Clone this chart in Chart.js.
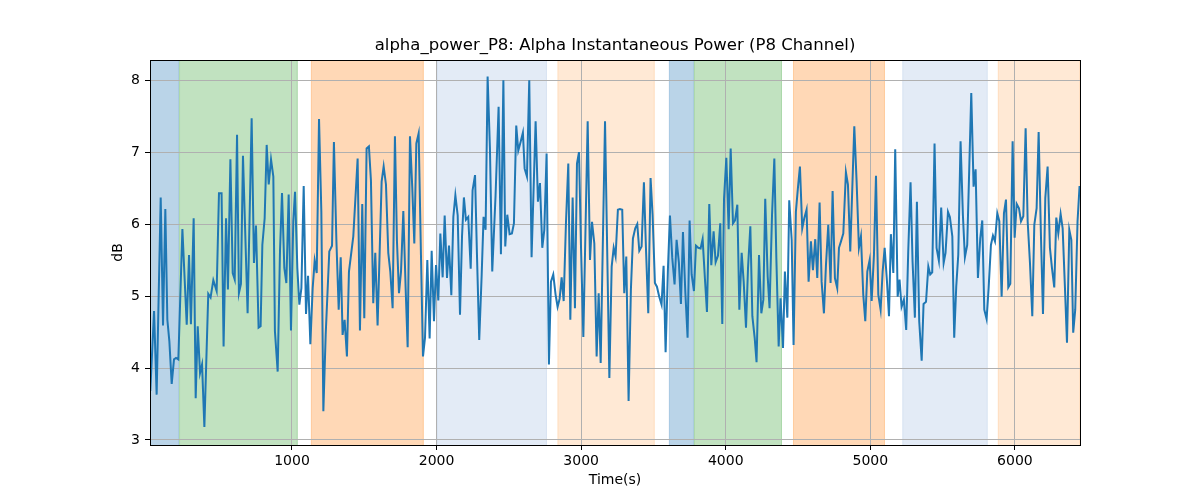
<!DOCTYPE html>
<html>
<head>
<meta charset="utf-8">
<title>alpha_power_P8</title>
<script src="https://cdn.jsdelivr.net/npm/chart.js@4.4.1/dist/chart.umd.min.js"></script>
<style>
  body { margin: 0; background: #fff; }
  #wrap { width: 1200px; height: 500px; }
</style>
</head>
<body>
<div id="wrap"><canvas id="chartAlpha" width="1200" height="500"></canvas></div>
<script>
// Tiempos (s) y potencia alfa (dB)
const timeSec = [
  20, 46, 64, 92, 108, 124, 138, 152, 168, 184, 198, 214, 242, 272, 288, 301, 320, 334, 348, 364,
  378, 394, 421, 437, 456, 479, 495, 513, 527, 544, 557, 574, 590, 604, 620, 633, 647, 661, 693, 721,
  737, 751, 769, 783, 795, 811,
  825, 839, 855, 871, 882, 901, 917, 931, 947, 961, 977, 993, 1009, 1021, 1037, 1051, 1065, 1081, 1097, 1111,
  1127, 1143, 1157, 1171, 1187, 1203, 1217, 1233, 1258, 1277, 1290, 1307, 1323, 1337, 1350, 1364, 1380, 1394, 1424, 1454,
  1470, 1486, 1500, 1516, 1532, 1546, 1562, 1576, 1592,
  1620, 1634, 1650, 1666, 1680, 1696, 1712, 1726, 1740, 1754, 1770, 1786, 1800, 1816, 1832, 1846, 1860, 1876, 1892, 1906,
  1920, 1936, 1952, 1966, 1982, 1996, 2012, 2026, 2042, 2056, 2072, 2086, 2102, 2116, 2130, 2146, 2162, 2176, 2189, 2203,
  2219, 2236, 2249, 2266, 2279, 2295, 2312, 2325, 2339, 2353, 2369, 2385, 2408,
  2429, 2445, 2462, 2475, 2489, 2505, 2521, 2535, 2551, 2565, 2581, 2597, 2609, 2625, 2641, 2657, 2685, 2701, 2715, 2731,
  2745, 2761, 2777, 2791, 2807, 2823, 2837, 2851, 2865, 2879, 2895, 2911, 2925, 2941, 2957, 2971, 2985, 2999, 3015, 3045,
  3061, 3075, 3091, 3107, 3121, 3135, 3165, 3195,
  3211, 3225, 3238, 3254, 3268, 3284, 3298, 3312, 3328, 3344, 3358, 3374, 3388, 3402, 3418, 3434, 3448, 3464, 3480, 3494,
  3510, 3524, 3540, 3556, 3570, 3584, 3600, 3614, 3630, 3646, 3660, 3676, 3690, 3704, 3720, 3736, 3750, 3764, 3780, 3794,
  3810, 3826, 3840, 3856, 3870, 3886, 3900, 3916, 3930, 3946, 3962, 3976,
  3988, 4004, 4020, 4034, 4050, 4064, 4080, 4094, 4110, 4124, 4140, 4154, 4170, 4184, 4200, 4213, 4230, 4246, 4260, 4273,
  4290, 4303, 4320, 4336, 4350, 4366, 4379, 4396, 4409, 4426, 4439, 4456, 4469, 4485, 4499, 4513, 4529, 4543, 4559, 4573,
  4589, 4603, 4619, 4633, 4649, 4663, 4679, 4693, 4709, 4725, 4739, 4755, 4771,
  4783, 4797, 4813, 4831, 4845, 4861, 4889, 4905, 4921, 4935, 4951, 4965, 4979, 4995, 5009, 5025, 5039, 5055, 5071, 5085,
  5099, 5115, 5129, 5142, 5159, 5172, 5189, 5202, 5216, 5232, 5248, 5262, 5278, 5292, 5308, 5322, 5338, 5355, 5368, 5385,
  5401, 5414, 5428, 5444, 5458, 5474, 5490, 5507, 5520, 5537, 5550, 5567, 5580,
  5594, 5608, 5624, 5640, 5654, 5670, 5684, 5698, 5714, 5728, 5744, 5760, 5774, 5788, 5804, 5818, 5834, 5848, 5862, 5878,
  5892, 5908, 5924, 5938, 5954, 5968, 5984, 5998, 6012, 6028, 6042, 6058, 6074, 6088, 6104, 6120, 6134, 6150, 6164, 6180,
  6194, 6210, 6226, 6242, 6256, 6272, 6286, 6300, 6316, 6330, 6346, 6360, 6376, 6390, 6403, 6417, 6433, 6447
];
const powerDb = [
  3.68, 4.79, 3.63, 6.37, 4.59, 6.21, 4.67, 4.37, 3.78, 4.12, 4.14, 4.12, 5.93, 4.60, 5.57, 4.61, 6.08, 3.58, 4.58, 3.93,
  4.05, 3.18, 5.03, 4.98, 5.22, 5.07, 6.43, 6.43, 4.30, 6.08, 5.09, 6.90, 5.32, 5.23, 7.24, 5.04, 5.17, 6.95, 4.76, 7.47,
  5.46, 5.98, 4.56, 4.58, 5.71, 6.08,
  7.10, 6.55, 6.90, 6.66, 4.51, 3.95, 5.62, 6.43, 5.39, 5.18, 6.41, 4.52, 6.04, 6.45, 5.39, 4.88, 5.11, 6.53, 4.75, 5.28,
  4.33, 5.11, 5.49, 5.32, 7.46, 6.17, 3.40, 4.46, 5.62, 5.70, 7.14, 5.78, 4.81, 5.54, 4.46, 4.67, 4.16, 5.34, 5.83, 6.91,
  4.52, 6.28, 4.69, 7.05, 7.08, 6.61, 4.90, 5.60, 4.59,
  6.59, 6.80, 6.55, 5.60, 5.34, 4.83, 7.22, 5.76, 5.04, 5.34, 6.18, 5.11, 4.29, 7.22, 6.50, 5.73, 7.12, 7.26, 5.57, 4.16,
  4.42, 5.50, 4.41, 5.63, 4.65, 5.43, 4.94, 5.87, 5.26, 6.12, 5.25, 5.70, 5.01, 6.10, 6.40, 6.12, 4.74, 5.83, 6.37, 6.06,
  6.10, 5.38, 6.47, 6.68, 5.60, 4.39, 5.30, 6.10, 5.92, 8.05, 7.05, 5.34, 6.40,
  7.63, 5.58, 8.00, 5.69, 6.13, 5.86, 5.87, 6.01, 7.37, 7.02, 7.14, 7.27, 6.77, 6.66, 8.00, 5.54, 7.43, 6.31, 6.57, 5.67,
  5.92, 6.98, 4.05, 5.20, 5.30, 5.02, 4.85, 4.96, 5.26, 4.93, 6.03, 6.84, 4.67, 6.37, 4.83, 6.84, 7.00, 5.67, 4.43, 7.43,
  5.50, 6.03, 5.73, 4.16, 5.04, 4.07, 7.43, 3.86,
  5.41, 5.67, 5.55, 6.20, 6.21, 6.20, 5.04, 5.55, 3.54, 5.09, 5.80, 5.94, 6.00, 5.63, 5.69, 6.58, 5.67, 4.76, 6.64, 6.13,
  5.18, 5.13, 4.99, 4.88, 5.42, 4.22, 5.37, 6.12, 5.53, 5.16, 5.78, 5.46, 4.89, 5.89, 5.07, 4.42, 6.05, 5.30, 5.07, 5.70,
  5.67, 5.66, 5.79, 5.24, 4.78, 6.28, 5.43, 5.90, 5.47, 5.56, 6.01, 4.61,
  6.35, 6.92, 5.93, 7.05, 6.01, 6.05, 6.27, 4.81, 5.60, 5.20, 4.56, 5.39, 5.97, 4.72, 4.42, 4.08, 5.57, 4.76, 4.95, 6.35,
  5.27, 4.83, 6.13, 6.91, 5.52, 4.30, 4.97, 4.28, 5.34, 4.70, 6.33, 5.78, 4.32, 6.17, 6.50, 6.80, 5.94, 6.08, 6.20, 5.20,
  5.76, 5.36, 5.79, 5.25, 6.30, 5.20, 4.76, 5.43, 5.99, 5.18, 6.46, 5.25, 5.11,
  5.67, 5.76, 5.87, 6.72, 6.55, 5.62, 7.36, 6.59, 5.67, 5.83, 5.02, 4.65, 5.34, 5.50, 4.93, 5.57, 6.67, 5.02, 4.81, 5.34,
  5.67, 5.20, 4.72, 5.86, 5.32, 7.04, 4.99, 5.23, 4.85, 4.95, 4.53, 5.62, 6.58, 5.48, 4.70, 6.31, 4.65, 4.10, 4.89, 4.92,
  5.41, 5.30, 5.33, 7.12, 5.67, 5.49, 6.23, 5.46, 5.60, 6.17, 6.10, 5.83, 4.42,
  5.13, 5.57, 7.15, 6.13, 5.54, 5.71, 6.77, 7.82, 6.52, 6.76, 5.25, 5.80, 6.05, 4.81, 4.68, 5.11, 5.71, 5.84, 5.76, 6.15,
  6.04, 4.99, 6.15, 6.34, 5.12, 5.17, 7.15, 5.81, 6.28, 6.22, 6.04, 6.11, 7.33, 6.04, 5.46, 4.72, 5.99, 6.22, 7.28, 5.83,
  4.75, 6.36, 6.80, 5.67, 5.39, 5.12, 6.09, 5.87, 6.14, 5.94, 5.11, 4.35, 5.92, 5.78, 4.49, 4.81, 6.04, 6.53
];

// Intervalos sombreados (inicio, fin en segundos) y su grupo
const spanStart = [18, 219, 1131, 2003, 2837, 3607, 3780, 4465, 5222, 5882];
const spanEnd   = [219, 1039, 1911, 2763, 3508, 3780, 4389, 5101, 5811, 6450];
const spanGroup = [0, 1, 2, 3, 4, 0, 1, 2, 3, 4];

// Marcas de los ejes
const xTicks = [1000, 2000, 3000, 4000, 5000, 6000];
const yTicks = [3, 4, 5, 6, 7, 8];

const chartTitle = 'alpha_power_P8: Alpha Instantaneous Power (P8 Channel)';

const spanColors = ['#bad4e8', '#c1e2c0', '#ffd8b6', '#e3ebf6', '#ffe9d5'];
const spanEdges  = ['#a9c9e2', '#acd8ab', '#ffcc9e', '#d9e4f2', '#ffdfc2'];
const FONT = "'DejaVu Sans', sans-serif";

// Bandas debajo de la cuadrícula, marco y título centrado sobre el área
const spansPlugin = {
  id: 'spans',
  beforeDraw(chart) {
    const { ctx, chartArea: a, scales: { x } } = chart;
    ctx.save();
    spanStart.forEach((s, i) => {
      const x0 = Math.max(x.getPixelForValue(s), a.left);
      const x1 = Math.min(x.getPixelForValue(spanEnd[i]), a.right);
      ctx.fillStyle = spanColors[spanGroup[i]];
      ctx.fillRect(x0, a.top, x1 - x0, a.bottom - a.top);
      ctx.strokeStyle = spanEdges[spanGroup[i]];
      ctx.lineWidth = 1;
      ctx.beginPath();
      ctx.moveTo(x0 + 0.5, a.top); ctx.lineTo(x0 + 0.5, a.bottom);
      ctx.moveTo(x1 - 0.5, a.top); ctx.lineTo(x1 - 0.5, a.bottom);
      ctx.stroke();
    });
    ctx.restore();
  },
  afterDraw(chart) {
    const { ctx, chartArea: a } = chart;
    ctx.save();
    ctx.strokeStyle = '#000';
    ctx.lineWidth = 1;
    ctx.strokeRect(Math.round(a.left) + 0.5, Math.round(a.top) + 0.5,
                   Math.round(a.right - a.left), Math.round(a.bottom - a.top));
    ctx.fillStyle = '#000';
    ctx.font = "16.5px " + FONT;
    ctx.textAlign = 'center';
    ctx.textBaseline = 'middle';
    ctx.fillText(chartTitle, (a.left + a.right) / 2, a.top - 14);
    ctx.restore();
  }
};

const canvas = document.getElementById('chartAlpha');
const ctx = canvas.getContext('2d');

const chartAlpha = new Chart(ctx, {
  type: 'line',
  data: {
    datasets: [{
      label: 'alpha_power_P8',
      data: timeSec.map((t, i) => ({ x: t, y: powerDb[i] })),
      borderColor: '#1f77b4',
      borderWidth: 2,
      pointRadius: 0,
      tension: 0,
      fill: false
    }]
  },
  options: {
    responsive: false,
    animation: false,
    layout: { padding: { left: 0, right: 120, top: 60, bottom: 0 } },
    plugins: {
      legend: { display: false },
      tooltip: { enabled: false },
      title: { display: false }
    },
    scales: {
      x: {
        type: 'linear',
        min: 18,
        max: 6450,
        afterBuildTicks: axis => { axis.ticks = xTicks.map(v => ({ value: v })); },
        afterFit: scale => { scale.height = 55; },
        grid: { color: '#b0b0b0', lineWidth: 1, tickColor: '#000', tickLength: 5 },
        border: { display: false },
        ticks: {
          color: '#000', font: { family: FONT, size: 14 }, padding: 3, maxRotation: 0,
          callback: v => String(v)
        },
        title: {
          display: true, text: 'Time(s)', color: '#000',
          font: { family: FONT, size: 14 }, padding: { top: 0, bottom: 11 }
        }
      },
      y: {
        min: 2.93,
        max: 8.28,
        afterBuildTicks: axis => { axis.ticks = yTicks.map(v => ({ value: v })); },
        afterFit: scale => { scale.width = 150; },
        grid: { color: '#b0b0b0', lineWidth: 1, tickColor: '#000', tickLength: 5 },
        border: { display: false },
        ticks: { color: '#000', font: { family: FONT, size: 14 }, padding: 5, callback: v => String(v) },
        title: {
          display: true, text: 'dB', color: '#000',
          font: { family: FONT, size: 14 }, padding: { top: 110, bottom: 4 }
        }
      }
    }
  },
  plugins: [spansPlugin]
});
</script>
</body>
</html>
